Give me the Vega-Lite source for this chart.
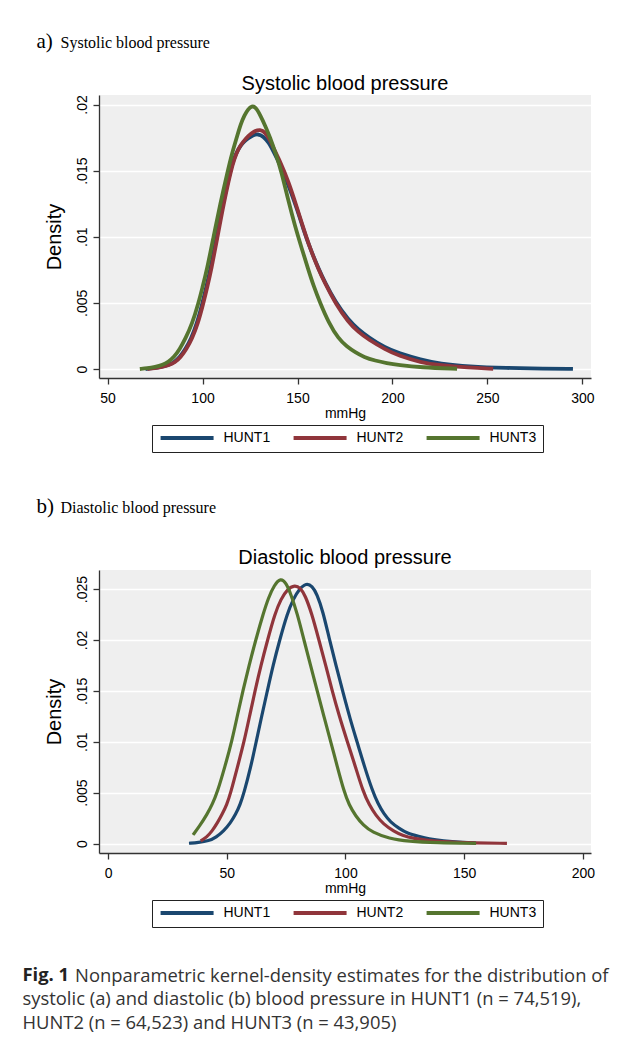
{
  "$schema": "https://vega.github.io/schema/vega-lite/v6.json",
  "background": "white",
  "padding": {"left": 22, "top": 30, "right": 5, "bottom": 10},
  "config": {
    "font": "Liberation Sans",
    "view": {"fill": "#efefef", "stroke": null},
    "axis": {
      "domainColor": "#333333", "domainWidth": 1.3, "tickColor": "#333333", "tickWidth": 1.3, "tickSize": 6,
      "labelFont": "Liberation Sans", "labelFontSize": 14, "labelColor": "black",
      "titleFont": "Liberation Sans", "titleFontWeight": "normal", "titleColor": "black",
      "gridColor": "white", "gridWidth": 1.6, "gridOpacity": 1
    },
    "axisX": {"grid": false, "labelPadding": 7, "titleFontSize": 14, "titlePadding": 1, "labelFlush": false, "labelOverlap": false},
    "axisY": {"grid": true, "labelAngle": -90, "labelAlign": "center", "labelBaseline": "alphabetic", "labelPadding": 6.5, "titleFontSize": 20, "titlePadding": 11, "labelOverlap": false},
    "legend": {
      "orient": "none", "legendX": 53, "legendY": 330, "direction": "horizontal", "title": null,
      "symbolType": "M-1,0H11", "symbolSize": 78, "symbolStrokeWidth": 4,
      "labelFont": "Liberation Sans", "labelFontSize": 14, "labelColor": "black",
      "strokeColor": "#222222", "fillColor": "white", "padding": 6, "columnPadding": 14, "labelOffset": 51.5
    }
  },
  "datasets": {
    "sys": [
      {"survey": "HUNT1", "mmHg": 70, "density": 0},
      {"survey": "HUNT1", "mmHg": 74, "density": 0.00005},
      {"survey": "HUNT1", "mmHg": 78, "density": 0.00015},
      {"survey": "HUNT1", "mmHg": 82, "density": 0.0003},
      {"survey": "HUNT1", "mmHg": 85, "density": 0.0005},
      {"survey": "HUNT1", "mmHg": 88, "density": 0.0009},
      {"survey": "HUNT1", "mmHg": 91, "density": 0.0015},
      {"survey": "HUNT1", "mmHg": 94, "density": 0.0023},
      {"survey": "HUNT1", "mmHg": 97, "density": 0.0034},
      {"survey": "HUNT1", "mmHg": 100, "density": 0.005},
      {"survey": "HUNT1", "mmHg": 102, "density": 0.0062},
      {"survey": "HUNT1", "mmHg": 104.1, "density": 0.0075},
      {"survey": "HUNT1", "mmHg": 107.4, "density": 0.01},
      {"survey": "HUNT1", "mmHg": 110.7, "density": 0.01248},
      {"survey": "HUNT1", "mmHg": 114.6, "density": 0.015},
      {"survey": "HUNT1", "mmHg": 116.5, "density": 0.0159},
      {"survey": "HUNT1", "mmHg": 118.7, "density": 0.0166},
      {"survey": "HUNT1", "mmHg": 121, "density": 0.0171},
      {"survey": "HUNT1", "mmHg": 124, "density": 0.01745},
      {"survey": "HUNT1", "mmHg": 126.5, "density": 0.01768},
      {"survey": "HUNT1", "mmHg": 129.1, "density": 0.01778},
      {"survey": "HUNT1", "mmHg": 132, "density": 0.0176},
      {"survey": "HUNT1", "mmHg": 135, "density": 0.0171},
      {"survey": "HUNT1", "mmHg": 137.5, "density": 0.0164},
      {"survey": "HUNT1", "mmHg": 140.5, "density": 0.01555},
      {"survey": "HUNT1", "mmHg": 145, "density": 0.014},
      {"survey": "HUNT1", "mmHg": 150, "density": 0.012},
      {"survey": "HUNT1", "mmHg": 153, "density": 0.0106},
      {"survey": "HUNT1", "mmHg": 156.7, "density": 0.0091},
      {"survey": "HUNT1", "mmHg": 161, "density": 0.0076},
      {"survey": "HUNT1", "mmHg": 164.6, "density": 0.0065},
      {"survey": "HUNT1", "mmHg": 169.8, "density": 0.0051},
      {"survey": "HUNT1", "mmHg": 176.8, "density": 0.0037},
      {"survey": "HUNT1", "mmHg": 182, "density": 0.003},
      {"survey": "HUNT1", "mmHg": 187.4, "density": 0.0024},
      {"survey": "HUNT1", "mmHg": 196.2, "density": 0.0016},
      {"survey": "HUNT1", "mmHg": 203.2, "density": 0.00121},
      {"survey": "HUNT1", "mmHg": 215, "density": 0.0007},
      {"survey": "HUNT1", "mmHg": 225, "density": 0.0004},
      {"survey": "HUNT1", "mmHg": 240, "density": 0.00018},
      {"survey": "HUNT1", "mmHg": 260, "density": 0.00007},
      {"survey": "HUNT1", "mmHg": 280, "density": 0.00003},
      {"survey": "HUNT1", "mmHg": 295, "density": 0.00001},
      {"survey": "HUNT2", "mmHg": 71, "density": 0},
      {"survey": "HUNT2", "mmHg": 75, "density": 0.00005},
      {"survey": "HUNT2", "mmHg": 78.5, "density": 0.00015},
      {"survey": "HUNT2", "mmHg": 82.5, "density": 0.0003},
      {"survey": "HUNT2", "mmHg": 85.5, "density": 0.0005},
      {"survey": "HUNT2", "mmHg": 88.5, "density": 0.0009},
      {"survey": "HUNT2", "mmHg": 91.5, "density": 0.0015},
      {"survey": "HUNT2", "mmHg": 94.5, "density": 0.0023},
      {"survey": "HUNT2", "mmHg": 97.5, "density": 0.0034},
      {"survey": "HUNT2", "mmHg": 100.5, "density": 0.005},
      {"survey": "HUNT2", "mmHg": 102.5, "density": 0.0062},
      {"survey": "HUNT2", "mmHg": 104.6, "density": 0.0075},
      {"survey": "HUNT2", "mmHg": 107.9, "density": 0.01},
      {"survey": "HUNT2", "mmHg": 111.1, "density": 0.01248},
      {"survey": "HUNT2", "mmHg": 114.9, "density": 0.015},
      {"survey": "HUNT2", "mmHg": 116.8, "density": 0.0159},
      {"survey": "HUNT2", "mmHg": 118.9, "density": 0.01669},
      {"survey": "HUNT2", "mmHg": 121.5, "density": 0.0172},
      {"survey": "HUNT2", "mmHg": 124.2, "density": 0.01765},
      {"survey": "HUNT2", "mmHg": 127, "density": 0.01797},
      {"survey": "HUNT2", "mmHg": 130.4, "density": 0.01813},
      {"survey": "HUNT2", "mmHg": 133, "density": 0.0179},
      {"survey": "HUNT2", "mmHg": 135.6, "density": 0.0173},
      {"survey": "HUNT2", "mmHg": 138, "density": 0.0165},
      {"survey": "HUNT2", "mmHg": 140.9, "density": 0.01568},
      {"survey": "HUNT2", "mmHg": 145.3, "density": 0.01417},
      {"survey": "HUNT2", "mmHg": 150, "density": 0.01207},
      {"survey": "HUNT2", "mmHg": 153, "density": 0.0107},
      {"survey": "HUNT2", "mmHg": 156.7, "density": 0.00908},
      {"survey": "HUNT2", "mmHg": 161, "density": 0.00756},
      {"survey": "HUNT2", "mmHg": 164.6, "density": 0.00645},
      {"survey": "HUNT2", "mmHg": 169.8, "density": 0.005},
      {"survey": "HUNT2", "mmHg": 176.8, "density": 0.00353},
      {"survey": "HUNT2", "mmHg": 182, "density": 0.0028},
      {"survey": "HUNT2", "mmHg": 187.4, "density": 0.00222},
      {"survey": "HUNT2", "mmHg": 196.2, "density": 0.00148},
      {"survey": "HUNT2", "mmHg": 203.2, "density": 0.001},
      {"survey": "HUNT2", "mmHg": 215, "density": 0.0005},
      {"survey": "HUNT2", "mmHg": 225, "density": 0.00028},
      {"survey": "HUNT2", "mmHg": 240, "density": 0.0001},
      {"survey": "HUNT2", "mmHg": 253, "density": 0.00002},
      {"survey": "HUNT3", "mmHg": 67, "density": 0},
      {"survey": "HUNT3", "mmHg": 71, "density": 0.00005},
      {"survey": "HUNT3", "mmHg": 75, "density": 0.00015},
      {"survey": "HUNT3", "mmHg": 79, "density": 0.0003},
      {"survey": "HUNT3", "mmHg": 82.1, "density": 0.00055},
      {"survey": "HUNT3", "mmHg": 85, "density": 0.0009},
      {"survey": "HUNT3", "mmHg": 88, "density": 0.0015},
      {"survey": "HUNT3", "mmHg": 91, "density": 0.0023},
      {"survey": "HUNT3", "mmHg": 94.5, "density": 0.0034},
      {"survey": "HUNT3", "mmHg": 97.9, "density": 0.005},
      {"survey": "HUNT3", "mmHg": 100, "density": 0.0062},
      {"survey": "HUNT3", "mmHg": 102.3, "density": 0.0075},
      {"survey": "HUNT3", "mmHg": 105.8, "density": 0.01},
      {"survey": "HUNT3", "mmHg": 109.3, "density": 0.01248},
      {"survey": "HUNT3", "mmHg": 113.3, "density": 0.015},
      {"survey": "HUNT3", "mmHg": 115.5, "density": 0.0163},
      {"survey": "HUNT3", "mmHg": 118, "density": 0.0175},
      {"survey": "HUNT3", "mmHg": 120, "density": 0.0185},
      {"survey": "HUNT3", "mmHg": 122.1, "density": 0.0192},
      {"survey": "HUNT3", "mmHg": 124, "density": 0.01965},
      {"survey": "HUNT3", "mmHg": 125.9, "density": 0.0199},
      {"survey": "HUNT3", "mmHg": 128, "density": 0.0198},
      {"survey": "HUNT3", "mmHg": 130.4, "density": 0.0192},
      {"survey": "HUNT3", "mmHg": 133, "density": 0.0184},
      {"survey": "HUNT3", "mmHg": 135.6, "density": 0.0175},
      {"survey": "HUNT3", "mmHg": 138.5, "density": 0.0163},
      {"survey": "HUNT3", "mmHg": 141.4, "density": 0.015},
      {"survey": "HUNT3", "mmHg": 145.3, "density": 0.01266},
      {"survey": "HUNT3", "mmHg": 148.5, "density": 0.0109},
      {"survey": "HUNT3", "mmHg": 152.3, "density": 0.00908},
      {"survey": "HUNT3", "mmHg": 155.5, "density": 0.0076},
      {"survey": "HUNT3", "mmHg": 158.4, "density": 0.0063},
      {"survey": "HUNT3", "mmHg": 161.9, "density": 0.005},
      {"survey": "HUNT3", "mmHg": 166.3, "density": 0.00353},
      {"survey": "HUNT3", "mmHg": 171.6, "density": 0.00227},
      {"survey": "HUNT3", "mmHg": 176, "density": 0.0017},
      {"survey": "HUNT3", "mmHg": 180.4, "density": 0.00126},
      {"survey": "HUNT3", "mmHg": 185, "density": 0.0009},
      {"survey": "HUNT3", "mmHg": 190.9, "density": 0.00063},
      {"survey": "HUNT3", "mmHg": 197, "density": 0.00044},
      {"survey": "HUNT3", "mmHg": 203.2, "density": 0.0003},
      {"survey": "HUNT3", "mmHg": 215, "density": 0.00012},
      {"survey": "HUNT3", "mmHg": 234, "density": 0.00002}
    ],
    "dia": [
      {"survey": "HUNT1", "mmHg": 34.1, "density": 0.00003},
      {"survey": "HUNT1", "mmHg": 38, "density": 0.0001},
      {"survey": "HUNT1", "mmHg": 42.5, "density": 0.00026},
      {"survey": "HUNT1", "mmHg": 45.5, "density": 0.0006},
      {"survey": "HUNT1", "mmHg": 48.8, "density": 0.00125},
      {"survey": "HUNT1", "mmHg": 51.5, "density": 0.002},
      {"survey": "HUNT1", "mmHg": 53.8, "density": 0.00289},
      {"survey": "HUNT1", "mmHg": 55.6, "density": 0.0038},
      {"survey": "HUNT1", "mmHg": 57.3, "density": 0.005},
      {"survey": "HUNT1", "mmHg": 60.1, "density": 0.0075},
      {"survey": "HUNT1", "mmHg": 62.4, "density": 0.01},
      {"survey": "HUNT1", "mmHg": 64.7, "density": 0.0125},
      {"survey": "HUNT1", "mmHg": 67.1, "density": 0.015},
      {"survey": "HUNT1", "mmHg": 69.5, "density": 0.0175},
      {"survey": "HUNT1", "mmHg": 72.3, "density": 0.02},
      {"survey": "HUNT1", "mmHg": 75.5, "density": 0.0226},
      {"survey": "HUNT1", "mmHg": 78, "density": 0.024},
      {"survey": "HUNT1", "mmHg": 80.5, "density": 0.025},
      {"survey": "HUNT1", "mmHg": 83.5, "density": 0.0256},
      {"survey": "HUNT1", "mmHg": 86, "density": 0.0253},
      {"survey": "HUNT1", "mmHg": 88, "density": 0.0245},
      {"survey": "HUNT1", "mmHg": 90.5, "density": 0.0228},
      {"survey": "HUNT1", "mmHg": 93.1, "density": 0.0202},
      {"survey": "HUNT1", "mmHg": 96, "density": 0.0175},
      {"survey": "HUNT1", "mmHg": 99, "density": 0.0148},
      {"survey": "HUNT1", "mmHg": 102, "density": 0.0122},
      {"survey": "HUNT1", "mmHg": 105, "density": 0.0099},
      {"survey": "HUNT1", "mmHg": 107.8, "density": 0.0077},
      {"survey": "HUNT1", "mmHg": 111.3, "density": 0.0052},
      {"survey": "HUNT1", "mmHg": 113.7, "density": 0.0039},
      {"survey": "HUNT1", "mmHg": 116.2, "density": 0.0029},
      {"survey": "HUNT1", "mmHg": 119, "density": 0.0021},
      {"survey": "HUNT1", "mmHg": 122.5, "density": 0.0015},
      {"survey": "HUNT1", "mmHg": 126, "density": 0.001},
      {"survey": "HUNT1", "mmHg": 130.9, "density": 0.0007},
      {"survey": "HUNT1", "mmHg": 135, "density": 0.00045},
      {"survey": "HUNT1", "mmHg": 140.8, "density": 0.00025},
      {"survey": "HUNT1", "mmHg": 150, "density": 0.0001},
      {"survey": "HUNT1", "mmHg": 155, "density": 0.00005},
      {"survey": "HUNT2", "mmHg": 39, "density": 0.00026},
      {"survey": "HUNT2", "mmHg": 41.5, "density": 0.0006},
      {"survey": "HUNT2", "mmHg": 43.9, "density": 0.00125},
      {"survey": "HUNT2", "mmHg": 46, "density": 0.002},
      {"survey": "HUNT2", "mmHg": 48.1, "density": 0.00289},
      {"survey": "HUNT2", "mmHg": 50, "density": 0.0038},
      {"survey": "HUNT2", "mmHg": 51.7, "density": 0.005},
      {"survey": "HUNT2", "mmHg": 54.5, "density": 0.0075},
      {"survey": "HUNT2", "mmHg": 57.3, "density": 0.01},
      {"survey": "HUNT2", "mmHg": 59.6, "density": 0.0125},
      {"survey": "HUNT2", "mmHg": 61.9, "density": 0.015},
      {"survey": "HUNT2", "mmHg": 64.4, "density": 0.0175},
      {"survey": "HUNT2", "mmHg": 67.2, "density": 0.02},
      {"survey": "HUNT2", "mmHg": 70.3, "density": 0.0226},
      {"survey": "HUNT2", "mmHg": 72.8, "density": 0.024},
      {"survey": "HUNT2", "mmHg": 75.5, "density": 0.025},
      {"survey": "HUNT2", "mmHg": 78.7, "density": 0.0254},
      {"survey": "HUNT2", "mmHg": 81, "density": 0.0251},
      {"survey": "HUNT2", "mmHg": 83, "density": 0.0244},
      {"survey": "HUNT2", "mmHg": 85.8, "density": 0.0226},
      {"survey": "HUNT2", "mmHg": 88.8, "density": 0.02},
      {"survey": "HUNT2", "mmHg": 91.7, "density": 0.0175},
      {"survey": "HUNT2", "mmHg": 94.4, "density": 0.015},
      {"survey": "HUNT2", "mmHg": 97.4, "density": 0.0125},
      {"survey": "HUNT2", "mmHg": 100.8, "density": 0.01},
      {"survey": "HUNT2", "mmHg": 104, "density": 0.0077},
      {"survey": "HUNT2", "mmHg": 107.4, "density": 0.0051},
      {"survey": "HUNT2", "mmHg": 110, "density": 0.0038},
      {"survey": "HUNT2", "mmHg": 112.7, "density": 0.0028},
      {"survey": "HUNT2", "mmHg": 116, "density": 0.0019},
      {"survey": "HUNT2", "mmHg": 120.4, "density": 0.0012},
      {"survey": "HUNT2", "mmHg": 124, "density": 0.0008},
      {"survey": "HUNT2", "mmHg": 128.1, "density": 0.0005},
      {"survey": "HUNT2", "mmHg": 138, "density": 0.0002},
      {"survey": "HUNT2", "mmHg": 150, "density": 0.00008},
      {"survey": "HUNT2", "mmHg": 168, "density": 0.00002},
      {"survey": "HUNT3", "mmHg": 35.8, "density": 0.00085},
      {"survey": "HUNT3", "mmHg": 38.5, "density": 0.0017},
      {"survey": "HUNT3", "mmHg": 41.8, "density": 0.00289},
      {"survey": "HUNT3", "mmHg": 44, "density": 0.0039},
      {"survey": "HUNT3", "mmHg": 46, "density": 0.005},
      {"survey": "HUNT3", "mmHg": 49.3, "density": 0.0076},
      {"survey": "HUNT3", "mmHg": 52.3, "density": 0.0102},
      {"survey": "HUNT3", "mmHg": 54.5, "density": 0.0126},
      {"survey": "HUNT3", "mmHg": 56.8, "density": 0.015},
      {"survey": "HUNT3", "mmHg": 59.4, "density": 0.0175},
      {"survey": "HUNT3", "mmHg": 62.2, "density": 0.02},
      {"survey": "HUNT3", "mmHg": 65.4, "density": 0.0226},
      {"survey": "HUNT3", "mmHg": 67.5, "density": 0.0241},
      {"survey": "HUNT3", "mmHg": 70, "density": 0.0254},
      {"survey": "HUNT3", "mmHg": 72.7, "density": 0.0261},
      {"survey": "HUNT3", "mmHg": 75, "density": 0.0256},
      {"survey": "HUNT3", "mmHg": 77, "density": 0.0245},
      {"survey": "HUNT3", "mmHg": 79.7, "density": 0.0226},
      {"survey": "HUNT3", "mmHg": 82.5, "density": 0.02},
      {"survey": "HUNT3", "mmHg": 85.3, "density": 0.0175},
      {"survey": "HUNT3", "mmHg": 88.1, "density": 0.015},
      {"survey": "HUNT3", "mmHg": 90.9, "density": 0.0125},
      {"survey": "HUNT3", "mmHg": 93.8, "density": 0.01},
      {"survey": "HUNT3", "mmHg": 96.5, "density": 0.0076},
      {"survey": "HUNT3", "mmHg": 99.4, "density": 0.0051},
      {"survey": "HUNT3", "mmHg": 101.5, "density": 0.0038},
      {"survey": "HUNT3", "mmHg": 104.3, "density": 0.0027},
      {"survey": "HUNT3", "mmHg": 107.5, "density": 0.0018},
      {"survey": "HUNT3", "mmHg": 111.3, "density": 0.0011},
      {"survey": "HUNT3", "mmHg": 118.3, "density": 0.0005},
      {"survey": "HUNT3", "mmHg": 126.7, "density": 0.0002},
      {"survey": "HUNT3", "mmHg": 138, "density": 0.00007},
      {"survey": "HUNT3", "mmHg": 155, "density": 0.00002}
    ]
  },
  "title": {
    "text": "Fig. 1",
    "orient": "bottom", "anchor": "start", "frame": "bounds", "dx": 0, "offset": -65.5,
    "font": "Open Sans", "fontSize": 18.4, "fontWeight": "bold", "color": "#222222"
  },
  "vconcat": [
    {
      "title": {
        "text": ["\u200b\u00a0\u00a0\u00a0\u00a0\u00a0\u00a0\u00a0\u00a0\u00a0\u00a0\u00a0Nonparametric kernel-density estimates for the distribution of", "systolic (a) and diastolic (b) blood pressure in HUNT1 (n = 74,519),", "HUNT2 (n = 64,523) and HUNT3 (n = 43,905)"],
        "orient": "bottom", "anchor": "start", "frame": "bounds", "dx": -14, "offset": 39,
        "font": "Open Sans", "fontSize": 18.4, "fontWeight": "normal", "color": "#333333", "lineHeight": 23.5
      },
      "spacing": 43,
      "resolve": {"scale": {"color": "independent"}, "legend": {"color": "independent"}},
      "vconcat": [
        {
          "title": {"text": "a)", "font": "Liberation Serif", "fontSize": 21, "fontWeight": "normal", "color": "black", "anchor": "start", "frame": "bounds", "dx": -8, "offset": -17},
          "resolve": {"scale": {"color": "independent"}, "legend": {"color": "independent"}},
          "vconcat": [
            {
              "title": {"text": "Systolic blood pressure", "font": "Liberation Serif", "fontSize": 16, "fontWeight": "normal", "color": "black", "anchor": "start", "frame": "bounds", "dx": 16, "offset": 23},
              "resolve": {"scale": {"color": "independent"}, "legend": {"color": "independent"}},
              "vconcat": [
                {
                  "title": {"text": "Systolic blood pressure", "font": "Liberation Sans", "fontSize": 20, "fontWeight": "normal", "color": "black", "anchor": "middle", "frame": "group", "offset": 1},
                  "width": 492, "height": 283,
                  "data": {"name": "sys"},
                  "mark": {"type": "line", "strokeWidth": 3.8, "interpolate": "basis", "clip": true},
                  "encoding": {
                    "x": {"field": "mmHg", "type": "quantitative", "scale": {"domain": [45.5, 304.5], "nice": false, "zero": false}, "axis": {"values": [50, 100, 150, 200, 250, 300], "title": "mmHg"}},
                    "y": {"field": "density", "type": "quantitative", "scale": {"domain": [-0.00068, 0.02072], "nice": false, "zero": false}, "axis": {"values": [0, 0.005, 0.01, 0.015, 0.02], "title": "Density", "labelExpr": "replace(toString(datum.value), '0.', '.')"}},
                    "color": {"field": "survey", "type": "nominal", "scale": {"domain": ["HUNT1", "HUNT2", "HUNT3"], "range": ["#1a476f", "#90353b", "#55752f"]}}
                  }
                }
              ]
            }
          ]
        },
        {
          "title": {"text": "b)", "font": "Liberation Serif", "fontSize": 21, "fontWeight": "normal", "color": "black", "anchor": "start", "frame": "bounds", "dx": -8, "offset": -17},
          "resolve": {"scale": {"color": "independent"}, "legend": {"color": "independent"}},
          "vconcat": [
            {
              "title": {"text": "Diastolic blood pressure", "font": "Liberation Serif", "fontSize": 16, "fontWeight": "normal", "color": "black", "anchor": "start", "frame": "bounds", "dx": 16, "offset": 31.5},
              "resolve": {"scale": {"color": "independent"}, "legend": {"color": "independent"}},
              "vconcat": [
                {
                  "title": {"text": "Diastolic blood pressure", "font": "Liberation Sans", "fontSize": 20, "fontWeight": "normal", "color": "black", "anchor": "middle", "frame": "group", "offset": 2.5},
                  "width": 492, "height": 283,
                  "data": {"name": "dia"},
                  "mark": {"type": "line", "strokeWidth": 3.2, "interpolate": "basis", "clip": true},
                  "encoding": {
                    "x": {"field": "mmHg", "type": "quantitative", "scale": {"domain": [-3.8, 203.4], "nice": false, "zero": false}, "axis": {"values": [0, 50, 100, 150, 200], "title": "mmHg"}},
                    "y": {"field": "density", "type": "quantitative", "scale": {"domain": [-0.00093, 0.02687], "nice": false, "zero": false}, "axis": {"values": [0, 0.005, 0.01, 0.015, 0.02, 0.025], "title": "Density", "labelExpr": "replace(toString(datum.value), '0.', '.')"}},
                    "color": {"field": "survey", "type": "nominal", "scale": {"domain": ["HUNT1", "HUNT2", "HUNT3"], "range": ["#1a476f", "#90353b", "#55752f"]}}
                  }
                }
              ]
            }
          ]
        }
      ]
    }
  ]
}
